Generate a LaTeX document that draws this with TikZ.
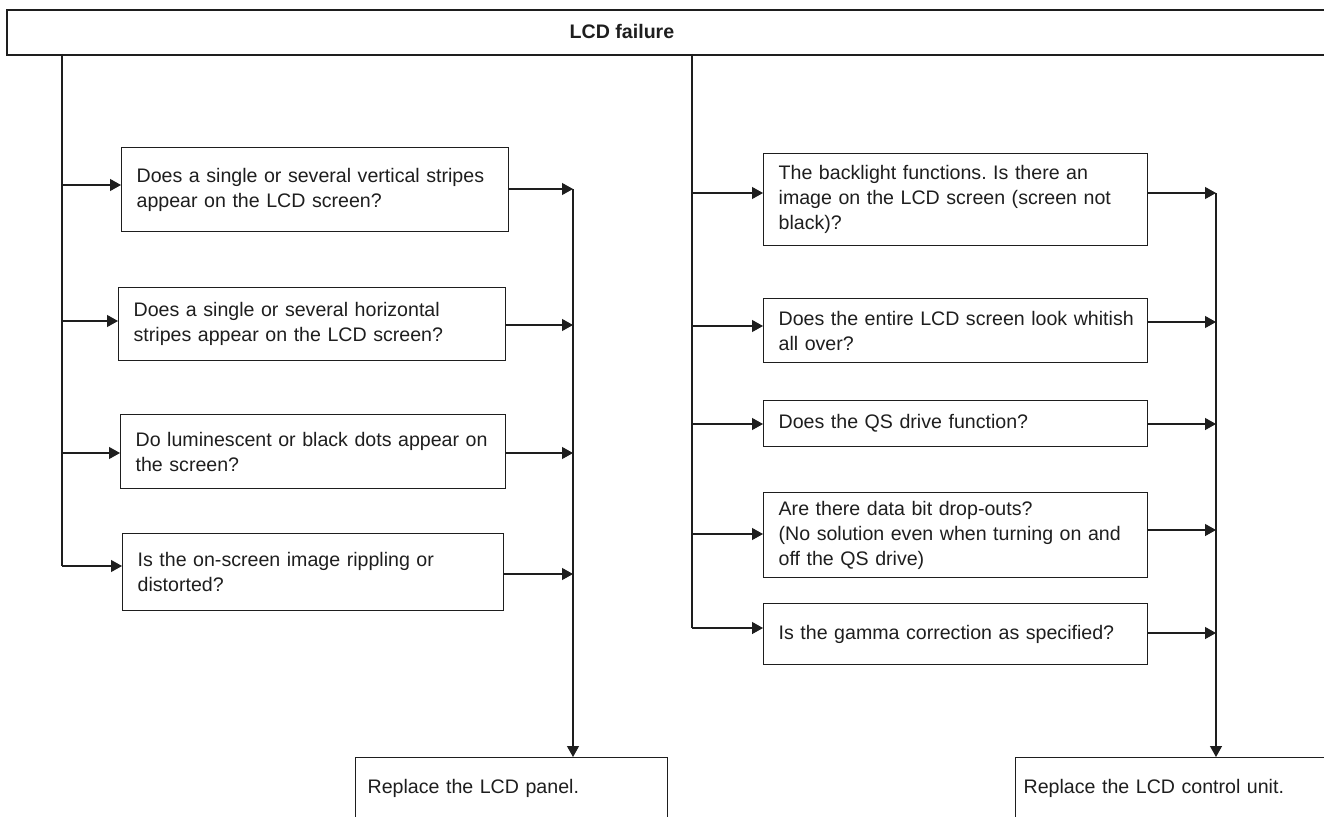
\documentclass[tikz,border=0pt]{standalone}
\usepackage{fontspec}
\setmainfont{Liberation Sans}
\usetikzlibrary{arrows.meta,calc}
\definecolor{ink}{HTML}{1E1E1E}
\newcommand\oneline[1]{\mbox{#1}}
\frenchspacing
\begin{document}
\begin{tikzpicture}[x=1pt,y=-1pt,
  qbox/.style={draw=ink, line width=1.3pt, anchor=north west, inner xsep=15pt, inner ysep=0pt,
    align=left, text=ink, font=\fontsize{19.6}{25}\selectfont},
  endbox/.style={draw=ink, line width=1.3pt, anchor=north west, inner ysep=0pt,
    align=left, text=ink, font=\fontsize{19.6}{25}\selectfont, text height=36pt, text depth=44pt},
  hdrbox/.style={draw=ink, line width=2.3pt, anchor=north west, inner sep=0pt},
  arr/.style={draw=ink, line width=1.2pt, -{Triangle[length=11pt,width=12pt]}},
  trunk/.style={draw=ink, line width=1.2pt}]
\useasboundingbox (0,0) rectangle (1324,816);
\clip (0,0) rectangle (1324,816);

% header
\node[hdrbox, minimum width=1340pt, minimum height=45pt] (hdr) at (6,9) {};
\node[text=ink, font=\bfseries\fontsize{19.6}{24}\selectfont] (hdrtxt) at (622,31) {LCD failure};

% left column boxes
\node[qbox, minimum width=387pt, minimum height=84pt, text width=357pt] (L1) at (121,147)
  {\oneline{Does a single or several vertical stripes}\\\oneline{appear on the LCD screen?}};
\node[qbox, minimum width=387pt, minimum height=73pt, text width=357pt] (L2) at (118,287)
  {\oneline{Does a single or several horizontal}\\\oneline{stripes appear on the LCD screen?}};
\node[qbox, minimum width=385pt, minimum height=74pt, text width=355pt] (L3) at (120,414)
  {\oneline{Do luminescent or black dots appear on}\\\oneline{the screen?}};
\node[qbox, minimum width=381pt, minimum height=77pt, text width=351pt] (L4) at (122,533)
  {\oneline{Is the on-screen image rippling or}\\\oneline{distorted?}};

% right column boxes
\node[qbox, minimum width=384pt, minimum height=92pt, text width=354pt] (R1) at (763,153)
  {\oneline{The backlight functions. Is there an}\\\oneline{image on the LCD screen (screen not}\\\oneline{black)?}};
\node[qbox, minimum width=384pt, minimum height=64pt, text width=354pt] (R2) at (763,298)
  {\oneline{Does the entire LCD screen look whitish}\\\oneline{all over?}};
\node[qbox, minimum width=384pt, minimum height=46pt, text width=354pt] (R3) at (763,400)
  {\oneline{Does the QS drive function?}};
\node[qbox, minimum width=384pt, minimum height=85pt, text width=354pt] (R4) at (763,492)
  {\oneline{Are there data bit drop-outs?}\\\oneline{(No solution even when turning on and}\\\oneline{off the QS drive)}};
\node[qbox, minimum width=384pt, minimum height=61pt, text width=354pt] (R5) at (763,603)
  {\oneline{Is the gamma correction as specified?}};

% result boxes
\node[endbox, inner xsep=12pt, minimum width=312pt, text width=288pt] (BL) at (355,757)
  {Replace the LCD panel.};
\node[endbox, inner xsep=8pt, minimum width=330pt, text width=314pt] (BR) at (1015,757)
  {Replace the LCD control unit.};

% trunks
\coordinate (Ltop) at (62,54);
\coordinate (Rtop) at (692,54);
\draw[trunk] (Ltop) -- (62,566);
\draw[trunk] (Rtop) -- (692,628);

% left inputs
\draw[arr] (62,185) -- (L1.west |- 62,185);
\draw[arr] (62,321) -- (L2.west |- 62,321);
\draw[arr] (62,453) -- (L3.west |- 62,453);
\draw[arr] (62,566) -- (L4.west |- 62,566);
% left outputs
\draw[arr] (L1.east |- 0,189) -- (573,189);
\draw[arr] (L2.east |- 0,325) -- (573,325);
\draw[arr] (L3.east |- 0,453) -- (573,453);
\draw[arr] (L4.east |- 0,574) -- (573,574);
\draw[arr] (573,189) -- (BL.north -| 573,0);

% right inputs
\draw[arr] (692,193) -- (R1.west |- 0,193);
\draw[arr] (692,326) -- (R2.west |- 0,326);
\draw[arr] (692,424) -- (R3.west |- 0,424);
\draw[arr] (692,534) -- (R4.west |- 0,534);
\draw[arr] (692,628) -- (R5.west |- 0,628);
% right outputs
\draw[arr] (R1.east |- 0,193) -- (1216,193);
\draw[arr] (R2.east |- 0,322) -- (1216,322);
\draw[arr] (R3.east |- 0,424) -- (1216,424);
\draw[arr] (R4.east |- 0,530) -- (1216,530);
\draw[arr] (R5.east |- 0,633) -- (1216,633);
\draw[arr] (1216,193) -- (BR.north -| 1216,0);
\end{tikzpicture}
\end{document}
